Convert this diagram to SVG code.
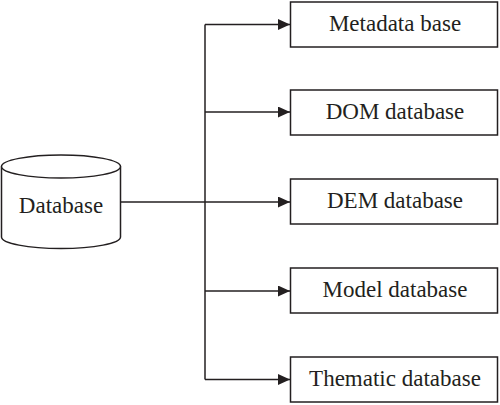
<svg xmlns="http://www.w3.org/2000/svg" width="500" height="405" viewBox="0 0 500 405">
<defs>
<style>
.shape{fill:#fff;stroke:#231f20;stroke-width:1.5}
.conn{fill:none;stroke:#231f20;stroke-width:1.5}
.lbl{font-family:"Liberation Serif","Times New Roman",serif;font-size:23px;fill:#231f20;text-anchor:middle}
</style>
<marker id="arr" viewBox="0 0 12 11" refX="12" refY="5.5" markerWidth="12" markerHeight="11" markerUnits="userSpaceOnUse" orient="auto">
<path d="M0,0 L12,5.5 L0,11 Z" fill="#231f20"/>
</marker>
</defs>
<rect width="500" height="405" fill="#fff"/>
<g id="connectors">
<line class="conn" x1="121" y1="202" x2="290" y2="202" marker-end="url(#arr)"/>
<line class="conn" x1="205" y1="24.5" x2="205" y2="379.5"/>
<line class="conn" x1="205" y1="24.5" x2="290" y2="24.5" marker-end="url(#arr)"/>
<line class="conn" x1="205" y1="112" x2="290" y2="112" marker-end="url(#arr)"/>
<line class="conn" x1="205" y1="291" x2="290" y2="291" marker-end="url(#arr)"/>
<line class="conn" x1="205" y1="379.5" x2="290" y2="379.5" marker-end="url(#arr)"/>
</g>
<g id="database">
<path class="shape" d="M1.5,166.5 L1.5,237 A59.5,11.5 0 0 0 120.5,237 L120.5,166.5"/>
<ellipse class="shape" cx="61" cy="166.5" rx="59.5" ry="11.5"/>
<text class="lbl" x="61" y="213">Database</text>
</g>
<g id="metadata">
<rect class="shape" x="290.5" y="2" width="207" height="45"/>
<text class="lbl" x="395" y="31">Metadata base</text>
</g>
<g id="dom">
<rect class="shape" x="290.5" y="90" width="207" height="45"/>
<text class="lbl" x="395" y="119">DOM database</text>
</g>
<g id="dem">
<rect class="shape" x="290.5" y="179" width="207" height="45"/>
<text class="lbl" x="395" y="208">DEM database</text>
</g>
<g id="model">
<rect class="shape" x="290.5" y="268" width="207" height="45"/>
<text class="lbl" x="395" y="297">Model database</text>
</g>
<g id="thematic">
<rect class="shape" x="290.5" y="357" width="207" height="45"/>
<text class="lbl" x="395" y="386">Thematic database</text>
</g>
</svg>
